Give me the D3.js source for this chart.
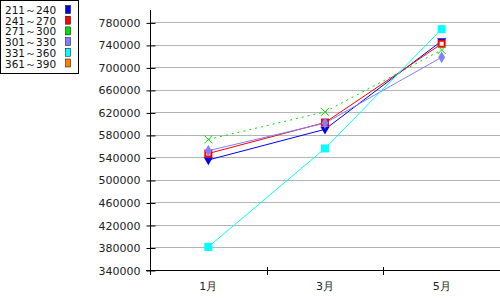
<!DOCTYPE html>
<html>
<head>
<meta charset="utf-8">
<script src="https://cdn.jsdelivr.net/npm/d3@7"></script>
<style>
body { margin: 0; background: #fff; }
text { font-family: "DejaVu Sans", sans-serif; }
</style>
</head>
<body>
<div id="chart"></div>
<script>
var months = ["1月", "3月", "5月"]
var seriesNames = ["211～240", "241～270", "271～300", "301～330", "331～360", "361～390"]
var seriesColors = ["#0000ee", "#ff0000", "#00dd00", "#8080ff", "#00ffff", "#ff8000"]
var s211 = [535500, 590000, 747000]
var s241 = [547000, 602000, 742000]
var s271 = [572000, 621000, 731000]
var s301 = [552000, 601000, 718000]
var s331 = [381000, 556000, 768000]
var s361 = []
var yTicks = [340000, 380000, 420000, 460000, 500000, 540000, 580000, 620000, 660000, 700000, 740000, 780000]

var allSeries = [s211, s241, s271, s301, s331, s361]
var markerTypes = ["tri", "hsq", "x", "dia", "sq", "none"]

var W = 500, H = 300
var plotLeft = 150, plotRight = 500, plotTop = 10, plotBottom = 270

var svg = d3.select("#chart").append("svg")
    .attr("width", W)
    .attr("height", H)

var xScale = d3.scaleBand().domain(months).range([plotLeft, plotRight])
var yScale = d3.scaleLinear().domain([340000, 802000]).range([plotBottom, plotTop])

// gridlines
svg.append("g").selectAll("line")
    .data(yTicks.slice(1))
    .enter().append("line")
    .attr("x1", plotLeft).attr("x2", plotRight)
    .attr("y1", function(d) { return Math.round(yScale(d)) + 0.5 })
    .attr("y2", function(d) { return Math.round(yScale(d)) + 0.5 })
    .style("stroke", "#b4b4b4")

// y axis
var yAxis = d3.axisLeft(yScale).tickValues(yTicks).tickFormat(d3.format("d")).tickSize(4).tickPadding(6)
var gy = svg.append("g").attr("transform", "translate(" + (plotLeft + 0.5) + ",0.5)").call(yAxis)
gy.select(".domain").remove()
gy.selectAll(".tick line").attr("x1", -4).attr("x2", 5).style("stroke", "#000")
gy.selectAll(".tick text").style("font-size", "11px").style("fill", "#222")
svg.append("line")
    .attr("x1", plotLeft + 0.5).attr("x2", plotLeft + 0.5)
    .attr("y1", plotTop).attr("y2", plotBottom + 5)
    .style("stroke", "#000")

// x axis
svg.append("line")
    .attr("x1", plotLeft - 4).attr("x2", plotRight)
    .attr("y1", plotBottom + 0.5).attr("y2", plotBottom + 0.5)
    .style("stroke", "#000")
var bounds = months.map(function(m) { return xScale(m) }).concat([plotRight])
svg.append("g").selectAll("line")
    .data(bounds.slice(1, 3))
    .enter().append("line")
    .attr("x1", function(d) { return Math.round(d) + 0.5 })
    .attr("x2", function(d) { return Math.round(d) + 0.5 })
    .attr("y1", plotBottom - 3).attr("y2", plotBottom + 5)
    .style("stroke", "#000")
svg.append("g").selectAll("text")
    .data(months)
    .enter().append("text")
    .attr("x", function(d) { return xScale(d) + xScale.bandwidth() / 2 })
    .attr("y", plotBottom + 20)
    .attr("text-anchor", "middle")
    .style("font-size", "11px")
    .style("fill", "#222")
    .text(function(d) { return d })

function cx(i) { return xScale(months[i]) + xScale.bandwidth() / 2 }

var line = d3.line()
    .x(function(d, i) { return cx(i) })
    .y(function(d) { return yScale(d) })

// lines
allSeries.forEach(function(vals, k) {
    if (vals.length == 0) return
    svg.append("path")
        .datum(vals)
        .attr("d", line)
        .style("fill", "none")
        .style("stroke", seriesColors[k])
        .style("stroke-width", 1)
        .style("stroke-dasharray", k == 2 ? "2,4" : null)
})

// markers
allSeries.forEach(function(vals, k) {
    var g = svg.append("g")
    vals.forEach(function(v, i) {
        var x = cx(i), y = yScale(v), c = seriesColors[k]
        var t = markerTypes[k]
        if (t == "tri") {
            g.append("path").attr("d", d3.symbol(d3.symbolTriangle, 36)())
                .attr("transform", "translate(" + x + "," + y + ") rotate(180)")
                .style("fill", c)
        } else if (t == "hsq") {
            g.append("rect").attr("x", x - 3).attr("y", y - 3).attr("width", 6).attr("height", 6)
                .style("fill", "#fff").style("stroke", c).style("stroke-width", 2)
        } else if (t == "x") {
            g.append("path").attr("d", "M-4,-4L4,4M-4,4L4,-4")
                .attr("transform", "translate(" + x + "," + y + ")")
                .style("stroke", c).style("fill", "none")
        } else if (t == "dia") {
            g.append("path").attr("d", d3.symbol(d3.symbolDiamond, 40)())
                .attr("transform", "translate(" + x + "," + y + ")")
                .style("fill", c)
        } else if (t == "sq") {
            g.append("rect").attr("x", x - 4).attr("y", y - 4).attr("width", 8).attr("height", 8)
                .style("fill", c)
        }
    })
})

// legend
var legend = svg.append("g")
legend.append("rect")
    .attr("x", 0.5).attr("y", 0.5).attr("width", 78).attr("height", 73)
    .style("fill", "#fff").style("stroke", "#000")
seriesNames.forEach(function(name, k) {
    var cy = 10 + k * 10.7
    legend.append("text")
        .attr("x", 5).attr("y", cy + 4)
        .style("font-size", "10.5px")
        .style("fill", "#111")
        .text(name)
    legend.append("rect")
        .attr("x", 65.5).attr("y", cy - 4.5).attr("width", 5).attr("height", 8)
        .style("fill", seriesColors[k]).style("stroke", "#000").style("stroke-width", 0.5)
})
</script>
</body>
</html>
